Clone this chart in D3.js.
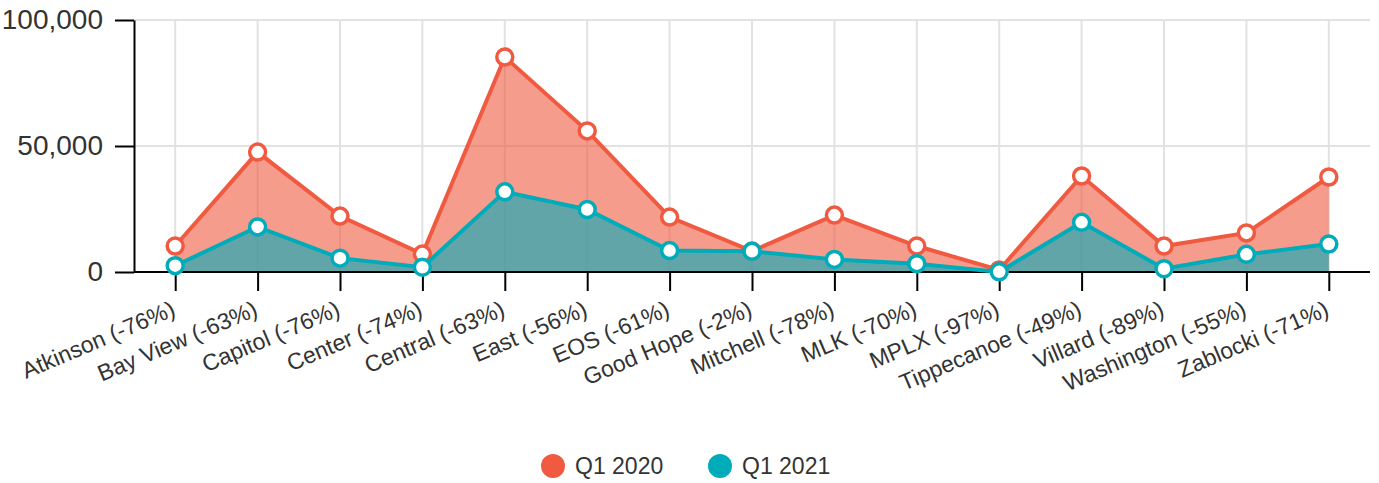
<!DOCTYPE html>
<html lang="en">
  <head>
    <meta charset="UTF-8" />
    <title>Q1 2020 vs Q1 2021</title>
    <style>
      body { margin: 0; background: #fff; }
      text { font-family: "Liberation Sans", Arial, sans-serif; }
    </style>
    <script src="https://d3js.org/d3.v7.min.js"></script>
  </head>
  <body>
    <div id="svg-container"></div>
    <script>
      // data
      const locations = ["Atkinson (-76%)", "Bay View (-63%)", "Capitol (-76%)", "Center (-74%)",
        "Central (-63%)", "East (-56%)", "EOS (-61%)", "Good Hope (-2%)", "Mitchell (-78%)",
        "MLK (-70%)", "MPLX (-97%)", "Tippecanoe (-49%)", "Villard (-89%)", "Washington (-55%)",
        "Zablocki (-71%)"];
      const q12020 = [10300, 47600, 22200, 7100, 85300, 56000, 21800, 8300, 22600, 10300, 800, 38100, 10300, 15500, 37700];
      const q12021 = [2500, 17900, 5500, 1900, 31800, 24800, 8500, 8200, 5000, 3300, 50, 19700, 1300, 7000, 11100];
      const yTicks = [0, 50000, 100000];
      const seriesNames = ["Q1 2020", "Q1 2021"];
      const colors = ["#f05a40", "#00abba"];

      const width = 1379, height = 483;
      const margin = { top: 20, right: 9, bottom: 211, left: 134 };

      const svg = d3.select("#svg-container").append("svg")
        .attr("width", width).attr("height", height);

      const x = d3.scalePoint().domain(locations)
        .range([margin.left, width - margin.right]).padding(0.5);
      const y = d3.scaleLinear().domain([0, 100000])
        .range([height - margin.bottom, margin.top]);

      // grid
      svg.append("g").selectAll("line.h").data(yTicks).join("line")
        .attr("x1", margin.left).attr("x2", width - margin.right)
        .attr("y1", d => y(d)).attr("y2", d => y(d))
        .attr("stroke", "#e2e2e2").attr("stroke-width", 2);
      svg.append("g").selectAll("line.v").data(locations).join("line")
        .attr("x1", d => x(d)).attr("x2", d => x(d))
        .attr("y1", margin.top).attr("y2", y(0))
        .attr("stroke", "#e2e2e2").attr("stroke-width", 2);

      const series = [q12020, q12021];

      series.forEach((vals, i) => {
        const pts = vals.map((v, j) => [x(locations[j]), y(v)]);
        svg.append("path").datum(pts)
          .attr("fill", colors[i]).attr("fill-opacity", 0.6)
          .attr("d", d3.area().x(d => d[0]).y0(y(0)).y1(d => d[1]));
      });

      // axes
      const xAxis = svg.append("g")
        .attr("transform", `translate(0,${y(0)})`)
        .call(d3.axisBottom(x).tickSize(19).tickSizeOuter(0));
      xAxis.select(".domain").attr("stroke", "#000").attr("stroke-width", 2)
        .attr("d", `M${margin.left},0H${width - margin.right}`);
      xAxis.selectAll(".tick line").attr("stroke", "#000").attr("stroke-width", 2);
      xAxis.selectAll(".tick text")
        .attr("font-size", 23).attr("fill", "#333")
        .attr("text-anchor", "end")
        .attr("dy", 0).attr("y", 0)
        .attr("transform", "translate(1,43) rotate(-23)");

      const yAxis = svg.append("g")
        .attr("transform", `translate(${margin.left},0)`)
        .call(d3.axisLeft(y).tickValues(yTicks).tickSize(19).tickSizeOuter(0)
          .tickFormat(d3.format(",")));
      yAxis.select(".domain").attr("stroke", "#000").attr("stroke-width", 2);
      yAxis.selectAll(".tick text").attr("font-size", 28).attr("fill", "#333")
        .attr("x", -31);
      yAxis.selectAll(".tick line").attr("stroke", "#000").attr("stroke-width", 2);

      // lines and markers
      series.forEach((vals, i) => {
        const pts = vals.map((v, j) => [x(locations[j]), y(v)]);
        svg.append("path").datum(pts)
          .attr("fill", "none").attr("stroke", colors[i]).attr("stroke-width", 4)
          .attr("d", d3.line());
        svg.append("g").selectAll("circle").data(pts).join("circle")
          .attr("cx", d => d[0]).attr("cy", d => d[1]).attr("r", 8)
          .attr("fill", "#fff").attr("stroke", colors[i]).attr("stroke-width", 3.5);
      });

      // legend
      const legend = svg.append("g").attr("transform", "translate(553,466)");
      seriesNames.forEach((name, i) => {
        const g = legend.append("g").attr("transform", `translate(${i * 167},0)`);
        g.append("circle").attr("r", 12).attr("fill", colors[i]);
        g.append("text").attr("x", 22).attr("dy", "0.35em")
          .attr("font-size", 23).attr("fill", "#333").text(name);
      });
    </script>
  </body>
</html>
